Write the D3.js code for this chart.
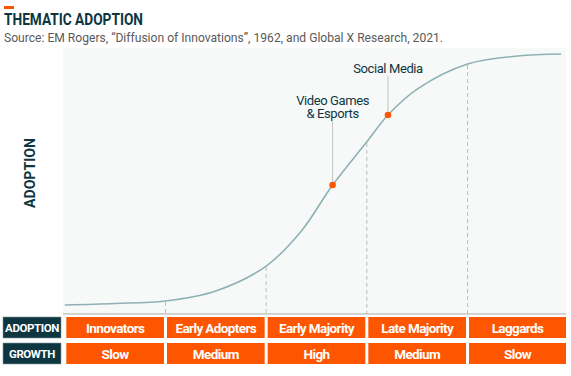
<!DOCTYPE html>
<html>
<head>
<meta charset="utf-8">
<script src="https://cdn.jsdelivr.net/npm/d3@7"></script>
<style>
  html, body { margin: 0; padding: 0; background: #fff; }
  svg { display: block; font-family: Roboto, "Open Sans", sans-serif; }
</style>
</head>
<body>
<svg id="chart" width="571" height="376"></svg>
<script>
// stages along the x axis (one band each)
const stages = ['Innovators', 'Early Adopters', 'Early Majority', 'Late Majority', 'Laggards'];
const growth = ['Slow', 'Medium', 'High', 'Medium', 'Slow'];
const rowLabels = ['ADOPTION', 'GROWTH'];

// adoption curve: position in stage units, cumulative adoption %
const curveX = [0, 0.5, 1, 1.5, 2, 2.35, 2.66, 3, 3.21, 3.5, 4, 4.5, 4.93];
const curveY = [0, 0.6, 1.6, 5.6, 15.5, 29.5, 47.8, 65, 75.7, 86, 96, 99.2, 100];

// labelled themes on the curve
const themeNames = [['Video Games', '& Esports'], ['Social Media']];
const themeX = [2.66, 3.21];
const themeY = [47.8, 75.7];

const ORANGE = '#fe5500', DARK = '#0e3641', TEAL = '#8fb1b3';

const svg = d3.select('#chart');
const L = 63, R = 566, T = 48, B = 314;
const x = d3.scaleLinear().domain([0, 5]).range([64.8, 568.2]);
const y = d3.scaleLinear().domain([0, 100]).range([305, 54]);

// title block
svg.append('rect').attr('x', 4).attr('y', 6).attr('width', 10).attr('height', 3).attr('fill', ORANGE);
svg.append('text').attr('x', 4).attr('y', 25).text('THEMATIC ADOPTION')
  .attr('fill', DARK).attr('font-size', 16).attr('font-weight', 700)
  .attr('textLength', 139).attr('lengthAdjust', 'spacingAndGlyphs');
svg.append('text').attr('x', 4).attr('y', 42)
  .text('Source: EM Rogers, \u201cDiffusion of Innovations\u201d, 1962, and Global X Research, 2021.')
  .attr('fill', '#5a5a5a').attr('font-size', 12.5)
  .attr('textLength', 439).attr('lengthAdjust', 'spacingAndGlyphs');

// plot background + baseline
svg.append('rect').attr('x', L).attr('y', T).attr('width', R - L).attr('height', B - T).attr('fill', '#f7f9f9');
svg.append('line').attr('x1', L).attr('x2', R).attr('y1', B).attr('y2', B).attr('stroke', '#a9a9a9').attr('stroke-width', 1.2);

svg.append('text').attr('transform', 'translate(35,173) rotate(-90)')
  .attr('text-anchor', 'middle').text('ADOPTION')
  .attr('fill', DARK).attr('font-size', 15).attr('font-weight', 700)
  .attr('textLength', 70).attr('lengthAdjust', 'spacingAndGlyphs');

// dashed stage dividers, from the curve down to the baseline
const pts = curveX.map((v, i) => [v, curveY[i]]);
[1, 2, 3, 4].forEach(s => {
  const i = curveX.indexOf(s);
  svg.append('line').attr('x1', x(s)).attr('x2', x(s)).attr('y1', y(curveY[i]) + 1).attr('y2', B)
    .attr('stroke', '#bdbdbd').attr('stroke-width', 1).attr('stroke-dasharray', '4 3');
});

const line = d3.line().x(d => x(d[0])).y(d => y(d[1])).curve(d3.curveCatmullRom.alpha(0.5));
svg.append('path').attr('d', line(pts)).attr('fill', 'none').attr('stroke', TEAL).attr('stroke-width', 1.6);

// theme markers
themeX.forEach((tx, i) => {
  const px = x(tx), py = y(themeY[i]);
  const names = themeNames[i];
  const top = i === 0 ? 121 : 76;
  svg.append('line').attr('x1', px).attr('x2', px).attr('y1', top).attr('y2', py)
    .attr('stroke', '#c4c4c4').attr('stroke-width', 1);
  names.forEach((n, k) => {
    svg.append('text').attr('x', px).attr('y', top - 3 - (names.length - 1 - k) * 13.5)
      .attr('text-anchor', 'middle').text(n)
      .attr('fill', DARK).attr('font-size', 13).attr('letter-spacing', -0.4);
  });
  svg.append('circle').attr('cx', px).attr('cy', py).attr('r', 3.3).attr('fill', ORANGE);
});

// table below the chart
const rows = [stages, growth];
const rowTop = [317, 343], rowH = 21;
rows.forEach((vals, r) => {
  svg.append('rect').attr('x', 3).attr('y', rowTop[r]).attr('width', 58).attr('height', rowH)
    .attr('fill', DARK).attr('stroke', '#7f9aa0').attr('stroke-width', 0.6);
  svg.append('text').attr('x', 32).attr('y', rowTop[r] + 15).attr('text-anchor', 'middle')
    .text(rowLabels[r]).attr('fill', '#fff').attr('font-size', 11.5).attr('font-weight', 700).attr('letter-spacing', -0.4);
  vals.forEach((v, c) => {
    const x0 = Math.max(L + 1, x(c) + 1.5), x1 = Math.min(R, x(c + 1) - 1.5);
    svg.append('rect').attr('x', x0).attr('y', rowTop[r]).attr('width', x1 - x0).attr('height', rowH).attr('fill', ORANGE);
    svg.append('text').attr('x', (x0 + x1) / 2).attr('y', rowTop[r] + 15.5).attr('text-anchor', 'middle')
      .text(v).attr('fill', '#fff').attr('font-size', 13.5).attr('font-weight', 700).attr('letter-spacing', -0.6);
  });
});
</script>
</body>
</html>
